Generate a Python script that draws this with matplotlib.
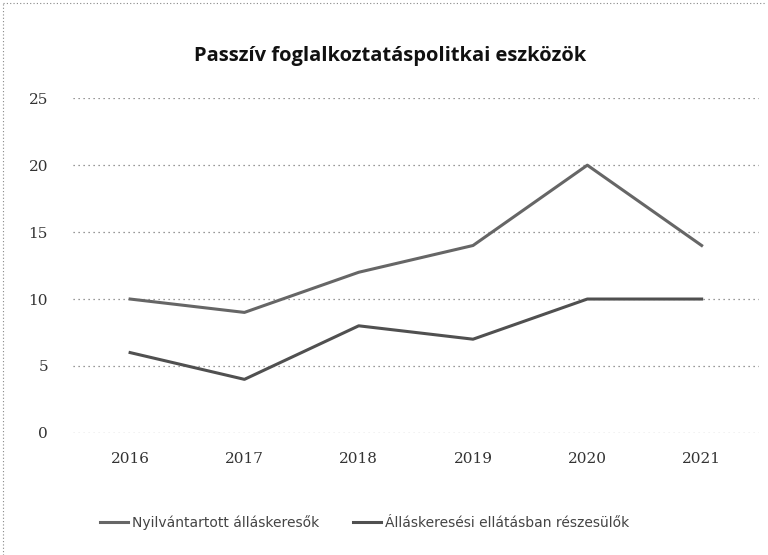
import matplotlib.pyplot as plt
from matplotlib.lines import Line2D

years = ["2016", "2017", "2018", "2019", "2020", "2021"]
registered = [10, 9, 12, 14, 20, 14]
benefit = [6, 4, 8, 7, 10, 10]
labels = ["Nyilvántartott álláskeresők", "Álláskeresési ellátásban részesülők"]

fig = plt.figure(figsize=(7.68, 5.55), dpi=100)
ax = fig.add_axes([0.095, 0.22, 0.893, 0.603])

x = range(len(years))
ax.plot(x, registered, color="#666666", lw=2.2, label=labels[0])
ax.plot(x, benefit, color="#505050", lw=2.2, label=labels[1])

ax.set_xlim(-0.5, len(years) - 0.5)
ax.set_ylim(0, 25)
ax.set_yticks([0, 5, 10, 15, 20, 25])
ax.set_xticks(list(x))
ax.set_xticklabels(years)
ax.tick_params(length=0, labelsize=11, colors="#333333", pad=14)
ax.tick_params(axis="y", pad=18)
for lab in ax.get_xticklabels() + ax.get_yticklabels():
    lab.set_family("DejaVu Serif")
for s in ax.spines.values():
    s.set_visible(False)
ax.grid(axis="y", linestyle=(0, (1, 3)), color="#777777", lw=0.9)
ax.set_axisbelow(True)

fig.text(0.508, 0.9, "Passzív foglalkoztatáspolitkai eszközök", ha="center", va="center",
         fontsize=14.5, fontweight="bold", family="Open Sans", color="#111111")

fig.legend(loc="center", bbox_to_anchor=(0.475, 0.058), ncol=2, frameon=False,
           fontsize=10, handlelength=2.0, handletextpad=0.3, columnspacing=2.4,
           labelcolor="#444444")

# dotted frame (top and left edges visible)
fig.add_artist(Line2D([0.004, 0.996], [0.995, 0.995], transform=fig.transFigure,
                      color="#888888", lw=0.8, linestyle=(0, (1, 2))))
fig.add_artist(Line2D([0.004, 0.004], [0.0, 0.995], transform=fig.transFigure,
                      color="#888888", lw=0.8, linestyle=(0, (1, 2))))

fig.savefig("out.png", dpi=100)
